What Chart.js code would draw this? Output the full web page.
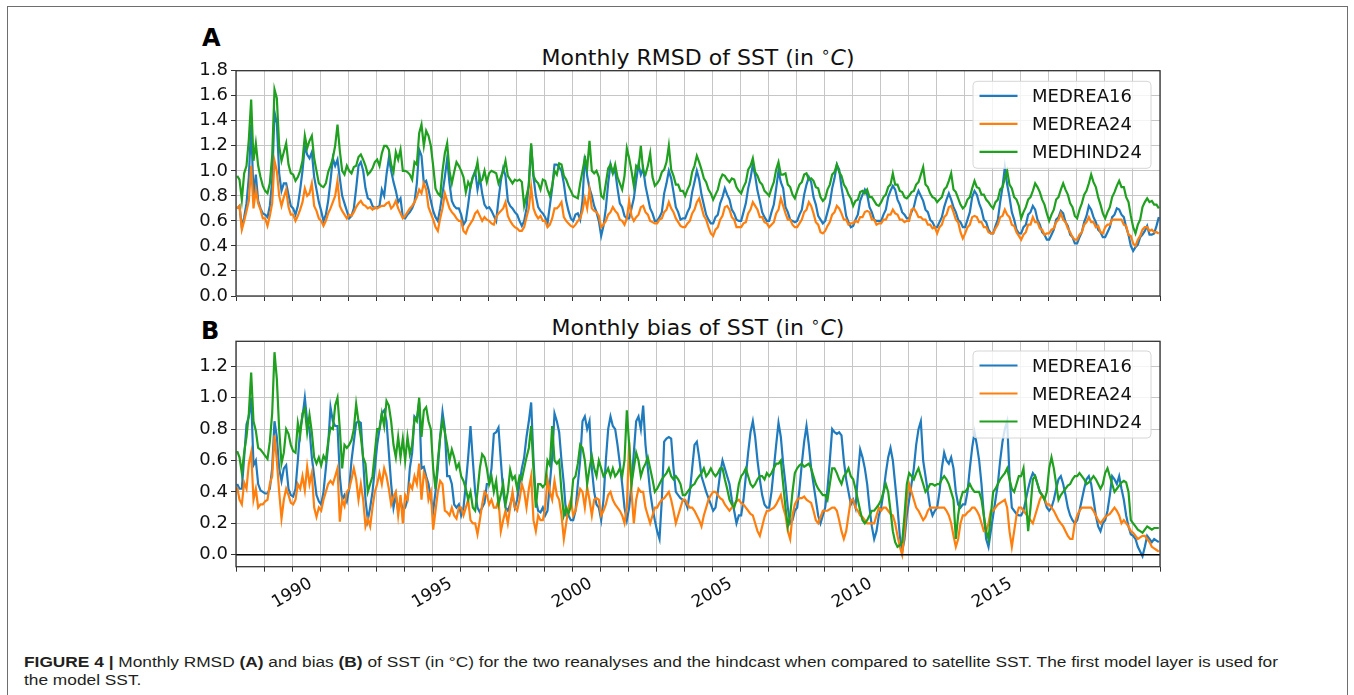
<!DOCTYPE html>
<html>
<head>
<meta charset="utf-8">
<script src="https://cdn.jsdelivr.net/npm/chart.js@4.4.1/dist/chart.umd.min.js"></script>
<style>
  body { margin: 0; background: #fff; width: 1354px; height: 695px; overflow: hidden; position: relative; }
  .frame { position: absolute; left: 7px; top: 6px; width: 1339px; height: 760px; border: 1.5px solid #6e6e6e; border-bottom: none; }
  canvas { position: absolute; left: 0; }
  #chartA { top: 0; }
  #chartB { top: 310px; }
  .ttl { position: absolute; font: 22px 'DejaVu Sans'; line-height: 1; color: #111; white-space: nowrap; transform: translateX(-50%); }
  .ttl sup { font-size: 70%; vertical-align: 0.55em; line-height: 0; }
  .pl { position: absolute; font: bold 24px 'DejaVu Sans'; line-height: 1; color: #000; }
  .cap { position: absolute; left: 24px; font: 14px 'Liberation Sans'; line-height: 1; color: #231f20; white-space: nowrap; transform-origin: 0 0; }
</style>
</head>
<body>
<div class="frame"></div>
<div class="pl" style="left:202px; top:26px;">A</div>
<div class="ttl" style="left:698px; top:46.5px;">Monthly RMSD of SST (in <sup>∘</sup><i>C</i>)</div>
<div class="pl" style="left:201px; top:319px;">B</div>
<div class="ttl" style="left:698px; top:316.5px;">Monthly bias of SST (in <sup>∘</sup><i>C</i>)</div>
<canvas id="chartA" width="1354" height="310"></canvas>
<canvas id="chartB" width="1354" height="310"></canvas>
<div class="cap" id="cap1" style="top:655px;"><b>FIGURE 4 |</b> Monthly RMSD <b>(A)</b> and bias <b>(B)</b> of SST (in °C) for the two reanalyses and the hindcast when compared to satellite SST. The first model layer is used for</div>
<div class="cap" id="cap2" style="top:673px;">the model SST.</div>

<script>
// axis setup
const firstYear = 1988;
const lastYear = 2020;
const yearLabels = ['1990', '1995', '2000', '2005', '2010', '2015'];
const rmsdTicks = [0, 0.2, 0.4, 0.6, 0.8, 1.0, 1.2, 1.4, 1.6, 1.8];
const biasTicks = [0, 0.2, 0.4, 0.6, 0.8, 1.0, 1.2];
const seriesNames = ['MEDREA16', 'MEDREA24', 'MEDHIND24'];
const seriesColors = ['#1f7bbd', '#ff7f0e', '#1fa01f'];

// monthly values Jan 1988 .. Dec 2020, hundredths of degC, one row per year
// A - RMSD
const rmsdMedrea16 = [
  70,72,55,63,74,95,137,80,97,76,70,66,
  65,63,72,92,147,138,98,84,90,90,81,72,
  70,65,72,85,100,120,113,110,115,95,85,75,
  68,60,65,76,92,110,104,109,94,80,74,68,
  62,64,70,86,104,107,100,86,78,77,72,70,
  71,72,85,80,97,110,100,91,84,75,78,63,
  62,65,67,70,75,90,117,112,90,92,85,76,
  68,63,60,70,82,95,110,90,76,72,70,70,
  65,57,60,73,88,95,100,85,95,82,73,70,
  71,68,64,60,77,92,102,96,76,72,70,67,
  65,60,56,60,70,90,120,95,80,71,68,66,
  63,58,72,86,105,105,103,100,90,76,68,62,
  60,65,66,61,76,112,96,86,80,72,67,60,
  48,56,70,90,105,98,100,86,74,71,64,62,
  62,70,78,92,105,97,102,88,79,70,66,60,
  60,63,67,82,90,100,94,83,71,67,61,62,
  62,67,71,83,91,100,93,81,73,65,61,58,
  58,63,65,74,79,86,81,77,69,66,61,60,
  60,67,74,86,94,105,96,84,76,67,63,60,
  60,67,73,86,100,91,86,71,67,61,60,59,
  60,65,69,81,89,95,91,79,73,64,61,58,
  60,67,74,86,94,105,101,87,76,64,59,55,
  56,61,65,76,81,85,81,71,67,61,60,60,
  60,65,69,79,84,88,85,77,73,67,65,62,
  62,67,71,79,84,80,76,69,67,61,59,55,
  55,59,63,71,77,82,77,71,67,61,59,55,
  55,61,67,79,84,81,74,69,61,59,53,50,
  50,56,61,75,87,103,89,79,67,61,53,50,
  50,55,57,65,67,72,69,61,57,51,49,45,
  45,49,53,61,63,68,66,59,56,49,47,42,
  42,47,51,59,64,72,69,63,59,53,51,47,
  47,51,55,63,65,70,69,65,63,55,49,40,
  36,39,41,47,49,52,56,49,49,50,56,63
];
const rmsdMedrea24 = [
  70,72,53,60,68,76,104,70,85,74,69,62,
  62,56,64,74,108,100,80,72,79,85,71,65,
  65,60,64,69,75,86,80,82,90,72,68,62,
  60,56,60,66,70,75,80,92,72,68,65,62,
  65,64,67,71,74,76,73,72,70,71,69,71,
  70,71,72,72,74,75,70,72,76,70,66,62,
  64,67,70,72,75,79,85,82,90,85,71,66,
  61,55,52,62,70,82,76,70,67,65,62,60,
  60,52,50,55,58,61,66,68,64,60,63,61,
  60,58,57,63,66,68,70,75,64,60,57,55,
  54,52,52,55,63,70,87,70,65,62,64,60,
  60,55,57,62,70,70,72,75,63,60,58,56,
  55,57,60,62,68,78,70,85,70,68,67,64,
  55,57,60,65,67,71,68,66,61,60,57,62,
  76,64,60,63,65,71,72,67,65,60,59,58,
  58,61,62,67,69,75,70,67,62,59,56,55,
  55,58,60,66,69,75,78,71,64,61,55,50,
  48,53,55,61,64,71,72,69,63,61,55,55,
  55,58,59,66,69,75,72,69,63,63,59,58,
  55,57,59,66,69,78,72,66,61,61,57,55,
  55,58,61,67,69,75,72,66,59,57,51,50,
  52,56,59,65,67,72,70,66,61,61,57,58,
  58,60,59,63,63,67,68,67,61,61,57,58,
  58,61,61,65,65,69,66,65,61,61,59,60,
  60,69,70,67,63,63,61,61,57,57,54,55,
  50,55,57,63,65,71,72,67,61,59,51,46,
  50,55,57,63,64,63,59,59,55,55,51,50,
  50,54,57,63,64,69,65,63,57,56,51,48,
  45,49,51,57,57,63,59,59,54,53,49,50,
  50,53,54,59,61,66,61,59,54,51,47,45,
  45,49,51,57,59,63,59,59,55,56,51,50,
  55,57,57,61,61,61,61,61,57,56,49,48,
  42,40,45,48,53,55,55,52,53,51,51,50
];
const rmsdMedhind24 = [
  96,93,77,98,104,125,157,108,122,104,95,88,
  84,82,90,112,165,158,120,108,115,122,105,98,
  97,92,95,100,108,128,118,124,128,110,100,90,
  88,87,90,99,104,110,120,137,116,100,97,104,
  100,98,103,104,111,113,109,104,97,99,102,107,
  109,104,114,120,120,117,105,99,115,109,117,100,
  100,99,97,93,107,105,130,137,120,132,128,120,
  104,86,82,80,100,114,122,100,90,99,107,104,
  100,95,83,91,87,95,98,107,91,93,100,91,
  98,100,99,98,90,95,100,108,96,93,90,93,
  92,93,91,72,80,88,122,96,92,90,85,93,
  92,85,80,88,100,97,106,105,96,93,88,84,
  80,79,78,90,100,110,102,124,100,98,100,95,
  80,78,90,102,105,98,105,95,90,85,96,118,
  110,100,88,104,102,120,100,97,104,114,95,88,
  90,93,99,101,107,120,101,96,89,89,84,84,
  80,85,89,99,104,112,107,101,94,91,85,82,
  77,81,85,93,97,96,93,91,94,93,87,84,
  82,87,91,101,104,110,99,96,91,89,84,82,
  80,86,91,101,107,97,97,98,89,87,81,78,
  84,89,91,97,98,93,94,92,87,86,79,76,
  78,85,89,97,99,105,99,96,89,86,81,78,
  72,76,77,83,84,82,85,79,79,76,73,72,
  75,79,81,87,89,98,89,89,84,83,79,78,
  80,83,84,89,91,97,103,89,87,82,79,78,
  75,77,79,85,87,92,98,85,83,78,73,70,
  72,77,79,86,92,87,86,81,81,77,75,72,
  70,75,77,85,87,94,100,89,86,79,77,72,
  62,67,71,77,79,84,90,87,83,77,73,66,
  60,65,69,77,79,85,90,85,81,74,71,64,
  62,69,74,81,84,90,97,91,87,79,73,66,
  62,67,71,79,83,88,92,87,87,79,75,64,
  55,50,57,61,71,75,78,75,76,73,73,70
];

// B - bias
const biasMedrea16 = [
  45,42,42,62,83,88,100,57,60,45,41,40,
  39,39,42,55,85,75,55,47,55,57,42,38,
  37,42,60,80,88,100,85,80,62,50,38,34,
  32,40,55,70,94,85,82,82,50,35,38,34,
  42,60,72,84,85,84,60,35,22,30,40,55,
  70,80,90,92,85,65,45,30,38,28,35,28,
  30,35,55,65,88,86,97,55,56,50,45,36,
  28,40,55,75,91,80,50,50,45,32,30,32,
  25,30,45,62,82,60,40,30,27,30,33,45,
  45,55,77,78,81,60,40,30,28,32,38,30,
  35,45,55,62,75,85,97,60,35,28,27,30,
  25,28,45,62,90,85,78,60,45,25,25,22,
  22,28,45,60,85,88,80,85,55,40,32,30,
  22,35,60,80,88,82,80,70,58,45,30,22,
  30,45,65,85,88,80,95,70,55,40,30,22,
  15,10,35,72,74,75,74,55,40,38,36,35,
  34,30,40,55,70,72,62,50,45,40,36,32,
  28,30,40,52,60,55,50,45,35,28,20,25,
  25,35,50,65,78,85,75,60,48,38,32,30,
  30,40,55,70,84,75,58,45,30,20,22,28,
  30,42,58,72,82,70,55,45,35,25,20,25,
  30,42,60,80,78,77,78,76,60,48,40,32,
  35,30,50,67,62,55,45,30,18,10,15,25,
  30,40,52,62,68,60,45,30,12,2,10,25,
  35,45,55,70,80,85,60,50,40,30,25,28,
  30,40,55,65,60,58,62,55,40,32,30,32,
  32,40,55,68,78,70,60,45,25,10,5,15,
  25,35,45,60,72,80,85,50,30,28,26,25,
  25,28,35,42,48,52,50,45,40,38,35,30,
  28,30,35,42,48,50,45,38,30,25,22,20,
  22,28,35,42,48,50,45,35,25,18,15,20,
  22,28,38,50,48,45,50,42,35,25,18,13,
  12,10,5,2,-1,5,12,10,8,10,9,8
];
const biasMedrea24 = [
  43,35,32,46,42,58,65,35,42,30,32,32,
  34,35,45,50,76,60,40,23,35,42,38,33,
  32,35,45,42,50,41,56,45,52,30,24,30,
  28,35,40,45,47,45,50,55,21,35,31,40,
  42,48,55,48,35,45,35,18,23,18,30,40,
  45,52,45,55,50,42,32,37,40,25,38,20,
  38,35,45,42,50,45,58,35,52,48,35,40,
  16,28,40,47,45,28,27,25,30,25,23,30,
  30,25,30,35,22,20,20,13,22,32,40,38,
  32,35,30,30,35,15,22,28,20,30,40,30,
  28,35,45,40,30,42,50,22,15,25,22,22,
  30,48,40,35,47,38,35,25,10,20,30,35,
  25,28,35,42,40,30,43,35,25,35,36,35,
  25,28,32,38,40,35,32,30,28,25,20,30,
  72,40,20,35,42,40,40,30,25,20,25,30,
  30,33,35,36,38,40,35,28,20,25,30,35,
  35,32,30,30,28,25,22,18,25,30,35,38,
  40,40,38,36,35,32,30,28,30,32,34,35,
  33,32,30,28,26,25,20,15,12,18,24,28,
  28,29,30,32,35,38,30,25,15,10,25,32,
  35,36,36,37,35,34,33,28,22,20,24,28,
  28,28,29,30,30,28,22,15,10,15,25,35,
  35,30,28,25,24,22,20,20,20,20,25,30,
  28,30,30,28,26,25,20,12,5,0,15,35,
  45,40,35,30,28,25,22,24,28,30,30,30,
  30,30,30,30,28,25,20,12,5,10,20,25,
  25,27,28,30,30,28,25,20,15,15,20,28,
  28,30,32,33,34,35,30,15,5,15,25,30,
  30,28,26,24,22,20,25,30,35,38,36,32,
  32,30,28,25,22,20,18,15,12,10,10,20,
  25,28,30,30,30,30,30,28,25,22,20,22,
  24,25,26,28,30,28,25,20,22,20,18,15,
  14,12,10,11,12,12,10,8,5,4,3,2
];
const biasMedhind24 = [
  66,62,52,65,75,90,116,85,79,68,67,65,
  63,61,72,90,129,112,80,58,65,80,77,70,
  66,65,84,76,90,93,78,89,78,62,58,62,
  57,63,60,72,81,80,95,100,80,55,70,68,
  70,73,80,96,85,75,62,58,40,45,50,65,
  80,80,90,82,98,95,85,70,62,75,62,74,
  60,75,64,70,87,85,100,75,92,94,85,80,
  55,42,60,75,85,78,70,60,67,62,55,58,
  50,47,42,35,40,30,28,40,55,64,62,55,
  45,50,40,47,32,38,45,32,40,54,48,50,
  42,50,48,55,62,68,82,55,30,45,45,43,
  45,60,57,82,60,58,60,40,25,30,26,31,
  48,50,58,70,68,60,45,55,63,55,50,60,
  55,50,52,55,50,55,50,52,55,50,60,92,
  70,45,55,65,60,50,55,58,62,55,48,40,
  42,45,48,50,52,55,50,48,50,48,45,38,
  38,40,42,44,45,48,50,52,55,50,52,55,
  52,50,52,55,55,48,42,35,32,30,35,45,
  50,52,55,50,45,43,45,48,50,50,48,52,
  50,52,55,58,58,60,45,30,18,25,40,52,
  55,57,58,56,57,58,55,50,45,42,40,38,
  38,35,45,55,55,52,48,45,50,52,55,50,
  48,42,35,28,22,20,22,25,28,28,30,32,
  35,40,45,40,28,15,8,5,6,8,25,45,
  52,50,48,52,55,50,45,40,42,45,45,44,
  45,45,48,50,48,45,40,35,10,25,35,40,
  40,42,45,42,40,40,40,35,25,15,10,25,
  40,42,45,48,50,52,55,48,42,40,45,50,
  50,55,35,15,30,48,50,45,40,38,35,40,
  55,62,55,45,35,38,40,42,44,45,48,50,
  50,52,50,48,45,46,48,50,48,45,42,45,
  52,55,50,45,40,42,44,46,47,46,40,22,
  20,18,16,15,14,16,18,17,16,17,17,17
];

// monthly points, placed mid-month
function toPoints(values) {
  return values.map((v, i) => ({ x: firstYear + (i + 0.5) / 12, y: v / 100 }));
}

const yearTicks = [];
for (let y = firstYear; y <= lastYear + 1; y++) yearTicks.push(y);

// frame + legend box drawn inside the plot
const panelDecor = {
  id: 'panelDecor',
  afterDatasetsDraw(chart, args, opts) {
    const ctx = chart.ctx;
    const a = chart.chartArea;
    ctx.save();
    ctx.strokeStyle = '#333';
    ctx.lineWidth = 1.3;
    ctx.strokeRect(a.left, a.top, a.right - a.left, a.bottom - a.top);

    const bx = a.right - 187, by = opts.legendTop, bw = 178, bh = 87, r = 4;
    ctx.beginPath();
    ctx.moveTo(bx + r, by);
    ctx.arcTo(bx + bw, by, bx + bw, by + bh, r);
    ctx.arcTo(bx + bw, by + bh, bx, by + bh, r);
    ctx.arcTo(bx, by + bh, bx, by, r);
    ctx.arcTo(bx, by, bx + bw, by, r);
    ctx.closePath();
    ctx.fillStyle = 'rgba(255,255,255,0.8)';
    ctx.fill();
    ctx.strokeStyle = '#d6d6d6';
    ctx.lineWidth = 1;
    ctx.stroke();

    ctx.font = '18px "DejaVu Sans"';
    ctx.textBaseline = 'alphabetic';
    ctx.fillStyle = '#111';
    seriesNames.forEach((name, i) => {
      const cy = by + 14.5 + 28 * i;
      ctx.strokeStyle = seriesColors[i];
      ctx.lineWidth = 2.2;
      ctx.beginPath();
      ctx.moveTo(bx + 6.5, cy);
      ctx.lineTo(bx + 44.5, cy);
      ctx.stroke();
      ctx.fillText(name, bx + 59, cy + 6.6);
    });
    ctx.restore();
  }
};

function renderPanel(canvasId, series, opts) {
  const datasets = series.map((vals, i) => ({
    label: seriesNames[i],
    data: toPoints(vals),
    borderColor: seriesColors[i],
    borderWidth: 2.2,
    order: 3 - i
  }));
  if (opts.zeroLine) {
    datasets.push({ label: 'zero', data: [{ x: firstYear, y: 0 }, { x: lastYear + 1, y: 0 }], borderColor: '#000', borderWidth: 1.6, order: -1 });
  }

  new Chart(document.getElementById(canvasId), {
    type: 'line',
    data: { datasets: datasets },
    options: {
      responsive: false,
      animation: false,
      devicePixelRatio: 1,
      layout: { padding: { left: 176, right: 194, top: opts.top, bottom: opts.bottom } },
      elements: { point: { radius: 0 }, line: { tension: 0 } },
      plugins: {
        legend: { display: false },
        tooltip: { enabled: false },
        panelDecor: { legendTop: opts.legendTop }
      },
      scales: {
        x: {
          type: 'linear',
          min: firstYear,
          max: lastYear + 1,
          afterBuildTicks: s => { s.ticks = yearTicks.map(v => ({ value: v })); },
          afterFit: s => { s.height = opts.xHeight; },
          border: { display: false },
          grid: { color: '#c6c6c6', lineWidth: 1, tickLength: 5, tickColor: '#333' },
          ticks: {
            display: opts.showYears,
            autoSkip: false,
            minRotation: 30,
            maxRotation: 30,
            labelOffset: 19,
            padding: 2,
            color: '#111',
            font: { family: 'DejaVu Sans', size: 17 },
            callback: v => yearLabels.includes(String(v)) ? String(v) : ''
          }
        },
        y: {
          min: opts.yMin,
          max: opts.yMax,
          afterBuildTicks: s => { s.ticks = opts.yTicks.map(v => ({ value: v })); },
          afterFit: s => { s.width = 60; },
          border: { display: false },
          grid: { color: '#c6c6c6', lineWidth: 1, tickLength: 5, tickColor: '#333' },
          ticks: {
            padding: 3,
            color: '#111',
            font: { family: 'DejaVu Sans', size: 18 },
            callback: v => v.toFixed(1)
          }
        }
      }
    },
    plugins: [panelDecor]
  });
}

renderPanel('chartA', [rmsdMedrea16, rmsdMedrea24, rmsdMedhind24], {
  yMin: 0, yMax: 1.8, yTicks: rmsdTicks,
  top: 70.7, bottom: 6, xHeight: 8, showYears: false, zeroLine: false, legendTop: 81.3
});
renderPanel('chartB', [biasMedrea16, biasMedrea24, biasMedhind24], {
  yMin: -0.0765, yMax: 1.3595, yTicks: biasTicks,
  top: 31.3, bottom: 3.3, xHeight: 50, showYears: true, zeroLine: true, legendTop: 41
});

// caption is set in a condensed face: squeeze the lines to the measured width
const cap1 = document.getElementById('cap1');
const cap2 = document.getElementById('cap2');
const squeeze = 1254 / cap1.getBoundingClientRect().width;
cap1.style.transform = 'scaleX(' + squeeze + ')';
cap2.style.transform = 'scaleX(' + squeeze + ')';
</script>
</body>
</html>
